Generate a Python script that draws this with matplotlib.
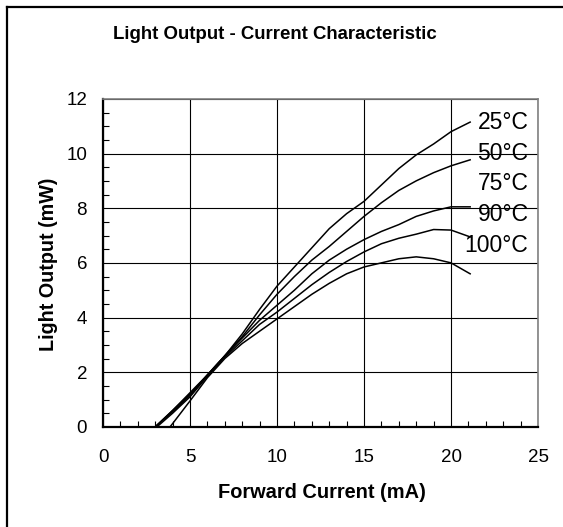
import matplotlib
matplotlib.use('Agg')
import matplotlib.pyplot as plt
from matplotlib.ticker import MultipleLocator

plt.rcParams['font.family'] = ['Liberation Sans', 'DejaVu Sans']

################################################################################
# Data.                                         #
################################################################################

labels = ['25°C', '50°C', '75°C', '90°C', '100°C']

I_25 = [3.0, 4, 5, 6, 7, 8, 9, 10, 11, 12, 13, 14, 15, 16, 17, 18, 19, 20, 21.1]
P_25 = [0, 0.6, 1.25, 1.9, 2.6, 3.4, 4.3, 5.15, 5.85, 6.55, 7.25, 7.8, 8.25, 8.85, 9.45, 9.95, 10.35, 10.8, 11.15]

I_50 = [3.0, 4, 5, 6, 7, 8, 9, 10, 11, 12, 13, 14, 15, 16, 17, 18, 19, 20, 21.1]
P_50 = [0, 0.6, 1.2, 1.9, 2.6, 3.3, 4.1, 4.85, 5.5, 6.1, 6.6, 7.15, 7.7, 8.2, 8.65, 9.0, 9.3, 9.55, 9.77]

I_75 = [3.0, 4, 5, 6, 7, 8, 9, 10, 11, 12, 13, 14, 15, 16, 17, 18, 19, 20, 21.1]
P_75 = [0, 0.55, 1.15, 1.9, 2.6, 3.25, 3.9, 4.45, 5.0, 5.6, 6.1, 6.5, 6.85, 7.15, 7.4, 7.7, 7.9, 8.05, 8.05]

I_90 = [3.1, 4, 5, 6, 7, 8, 9, 10, 11, 12, 13, 14, 15, 16, 17, 18, 19, 20, 21.1]
P_90 = [0, 0.5, 1.1, 1.85, 2.55, 3.15, 3.75, 4.2, 4.7, 5.2, 5.65, 6.05, 6.4, 6.7, 6.9, 7.05, 7.22, 7.2, 6.95]

I_100 = [3.85, 4, 5, 6, 7, 8, 9, 10, 11, 12, 13, 14, 15, 16, 17, 18, 19, 20, 21.1]
P_100 = [0, 0.12, 0.95, 1.8, 2.5, 3.05, 3.5, 3.95, 4.4, 4.85, 5.25, 5.6, 5.85, 6.0, 6.15, 6.22, 6.15, 6.0, 5.6]

curves = [(I_25, P_25), (I_50, P_50), (I_75, P_75), (I_90, P_90), (I_100, P_100)]

# where the curve labels sit (data coords, right aligned)
label_x = 24.45
label_y = [11.12, 9.99, 8.89, 7.76, 6.62]

################################################################################
# Plot.                                                                        #
################################################################################

fig = plt.figure(figsize=(5.63, 5.27), dpi=100)
ax = fig.add_axes([0.183, 0.190, 0.7726, 0.6224])

for I, P in curves:
    ax.plot(I, P, '-', c='k', lw=1.1)

for lab, y in zip(labels, label_y):
    ax.text(label_x, y, lab, ha='right', va='center', fontsize=16.5)

ax.set_xlim(0, 25)
ax.set_ylim(0, 12)
ax.xaxis.set_major_locator(MultipleLocator(5))
ax.xaxis.set_minor_locator(MultipleLocator(1))
ax.yaxis.set_major_locator(MultipleLocator(2))
ax.yaxis.set_minor_locator(MultipleLocator(0.5))
ax.grid(True, which='major', color='k', lw=0.8)
ax.tick_params(which='major', length=0, labelsize=13.5)
ax.tick_params(axis='x', which='major', pad=16)
ax.tick_params(axis='y', which='major', pad=11.5)
ax.tick_params(which='minor', direction='in', length=4, width=0.8)

for s in ['left', 'bottom']:
    ax.spines[s].set_linewidth(1.6)
for s in ['top', 'right']:
    ax.spines[s].set_color('#808080')
    ax.spines[s].set_linewidth(1.2)

# Titles.
fig.text(0.489, 0.9336, 'Light Output - Current Characteristic', ha='center', va='center',
         fontsize=13.4, fontweight='bold')
fig.text(0.572, 0.0664, 'Forward Current (mA)', ha='center', va='center',
         fontsize=14.4, fontweight='bold')
fig.text(0.087, 0.499, 'Light Output (mW)', ha='center', va='center', rotation=90,
         fontsize=14.2, fontweight='bold')

# Outer chart border (only top and left are visible in the crop).
fig.add_artist(plt.Line2D([0.013, 0.013], [0, 0.986], transform=fig.transFigure, c='k', lw=1.6))
fig.add_artist(plt.Line2D([0.013, 1.0], [0.986, 0.986], transform=fig.transFigure, c='k', lw=1.6))

fig.savefig('out.png', dpi=100)
plt.close()
